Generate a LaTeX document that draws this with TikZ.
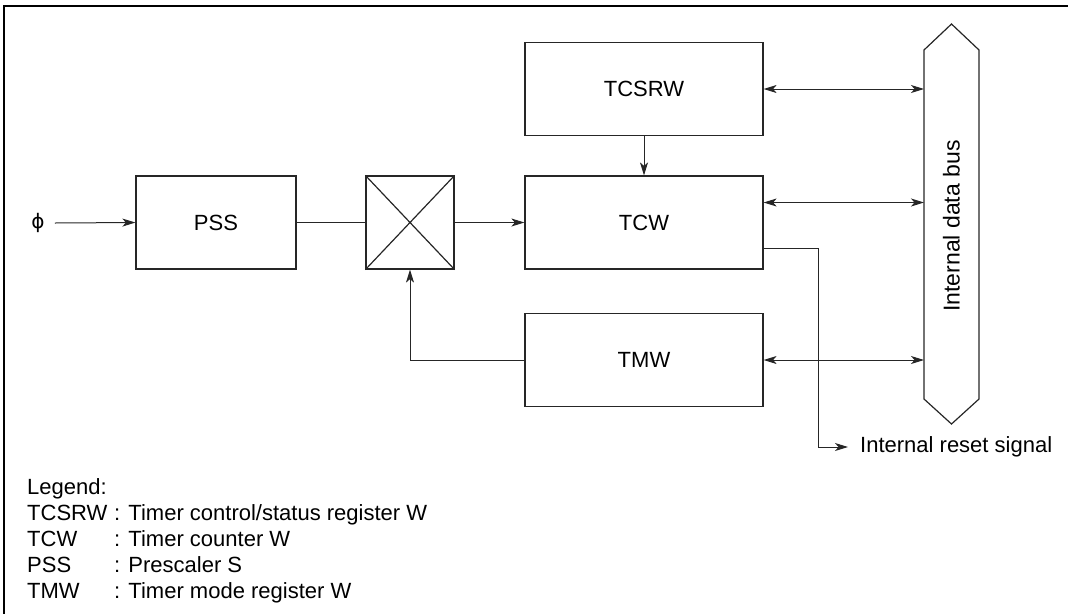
\documentclass[tikz,border=0pt]{standalone}
\usepackage{fontspec}
\setmainfont{Liberation Sans}
\newfontfamily\symfont{DejaVu Sans}
\usetikzlibrary{arrows.meta}
\begin{document}
\begin{tikzpicture}[x=1pt,y=-1pt,
  lbl/.style={font=\fontsize{22}{26}\selectfont,inner sep=0pt},
  box/.style={draw=black!85,line width=1.2pt,minimum width=#1,minimum height=93pt,inner sep=0pt,font=\fontsize{22}{26}\selectfont},
  conn/.style={draw=black!85,line width=1pt},
  tip/.style={-{Stealth[length=13pt,width=8pt,inset=3.5pt]}},
  bitip/.style={{Stealth[length=13pt,width=8pt,inset=3.5pt]}-{Stealth[length=13pt,width=8pt,inset=3.5pt]}},
  legend/.style={lbl,anchor=base west}
]
\useasboundingbox (0,0) rectangle (1068,614);
% frame (top and left edges)
\draw[line width=2.5pt] (1068,6) -- (4,6) -- (4,614);

% blocks
\node[box=160pt] (pss) at (216,222.5) {PSS};
\node[box=88pt] (mux) at (410,222.5) {};
\draw[line width=1.2pt,black!85] (mux.north west) -- (mux.south east) (mux.north east) -- (mux.south west);
\node[box=238pt] (tcw) at (644,222.5) {TCW};
\node[box=238pt] (tcsrw) at (644,89) {TCSRW};
\node[box=238pt] (tmw) at (644,360) {TMW};

% internal data bus
\node[minimum width=55pt,minimum height=349pt,inner sep=0pt,outer sep=0pt] (bus) at (951.5,224.5) {};
\draw[black!85,line width=1.2pt] (bus.north west) -- ([yshift=26pt]bus.north) -- (bus.north east)
  -- (bus.south east) -- ([yshift=-25pt]bus.south) -- (bus.south west) -- cycle;
\node[font=\fontsize{23}{27}\selectfont,inner sep=0pt,rotate=90] (bustxt) at (951.5,226) {Internal data bus};

% input
\node[font=\symfont\fontsize{20}{24}\selectfont,inner sep=0pt] (phi) at (38,223) {ϕ};
\draw[conn,tip] ([xshift=10pt]phi.east) -- (pss.west);
\draw[conn] (pss.east) -- (mux.west);
\draw[conn,tip] (mux.east) -- (tcw.west);
\draw[conn,tip] (tcsrw.south) -- (tcw.north);
\draw[conn,tip] (tmw.west) -| (mux.south);

% bus connections
\coordinate (tcwbus) at ([yshift=20pt]tcw.east);
\coordinate (tcwrst) at ([yshift=-25.5pt]tcw.east);
\draw[conn,bitip] (tcsrw.east) -- (bus.west |- tcsrw.east);
\draw[conn,bitip] (tcwbus) -- (bus.west |- tcwbus);
\draw[conn,bitip] (tmw.east) -- (bus.west |- tmw.east);

% reset signal
\node[lbl,anchor=west] (reset) at (860,447) {Internal reset signal};
\draw[conn,tip] (tcwrst) -- ++(55,0) |- ([xshift=-12pt]reset.west);

% legend
\node[legend] (lg) at (27,494) {Legend:};
\node[legend] (l1) at (27,520) {TCSRW};
\node[legend] (l1d) at (114,520) {: Timer control/status register W};
\node[legend] (l2) at (27,546) {TCW};
\node[legend] (l2d) at (114,546) {: Timer counter W};
\node[legend] (l3) at (27,572) {PSS};
\node[legend] (l3d) at (114,572) {: Prescaler S};
\node[legend] (l4) at (27,598) {TMW};
\node[legend] (l4d) at (114,598) {: Timer mode register W};
\end{tikzpicture}
\end{document}
